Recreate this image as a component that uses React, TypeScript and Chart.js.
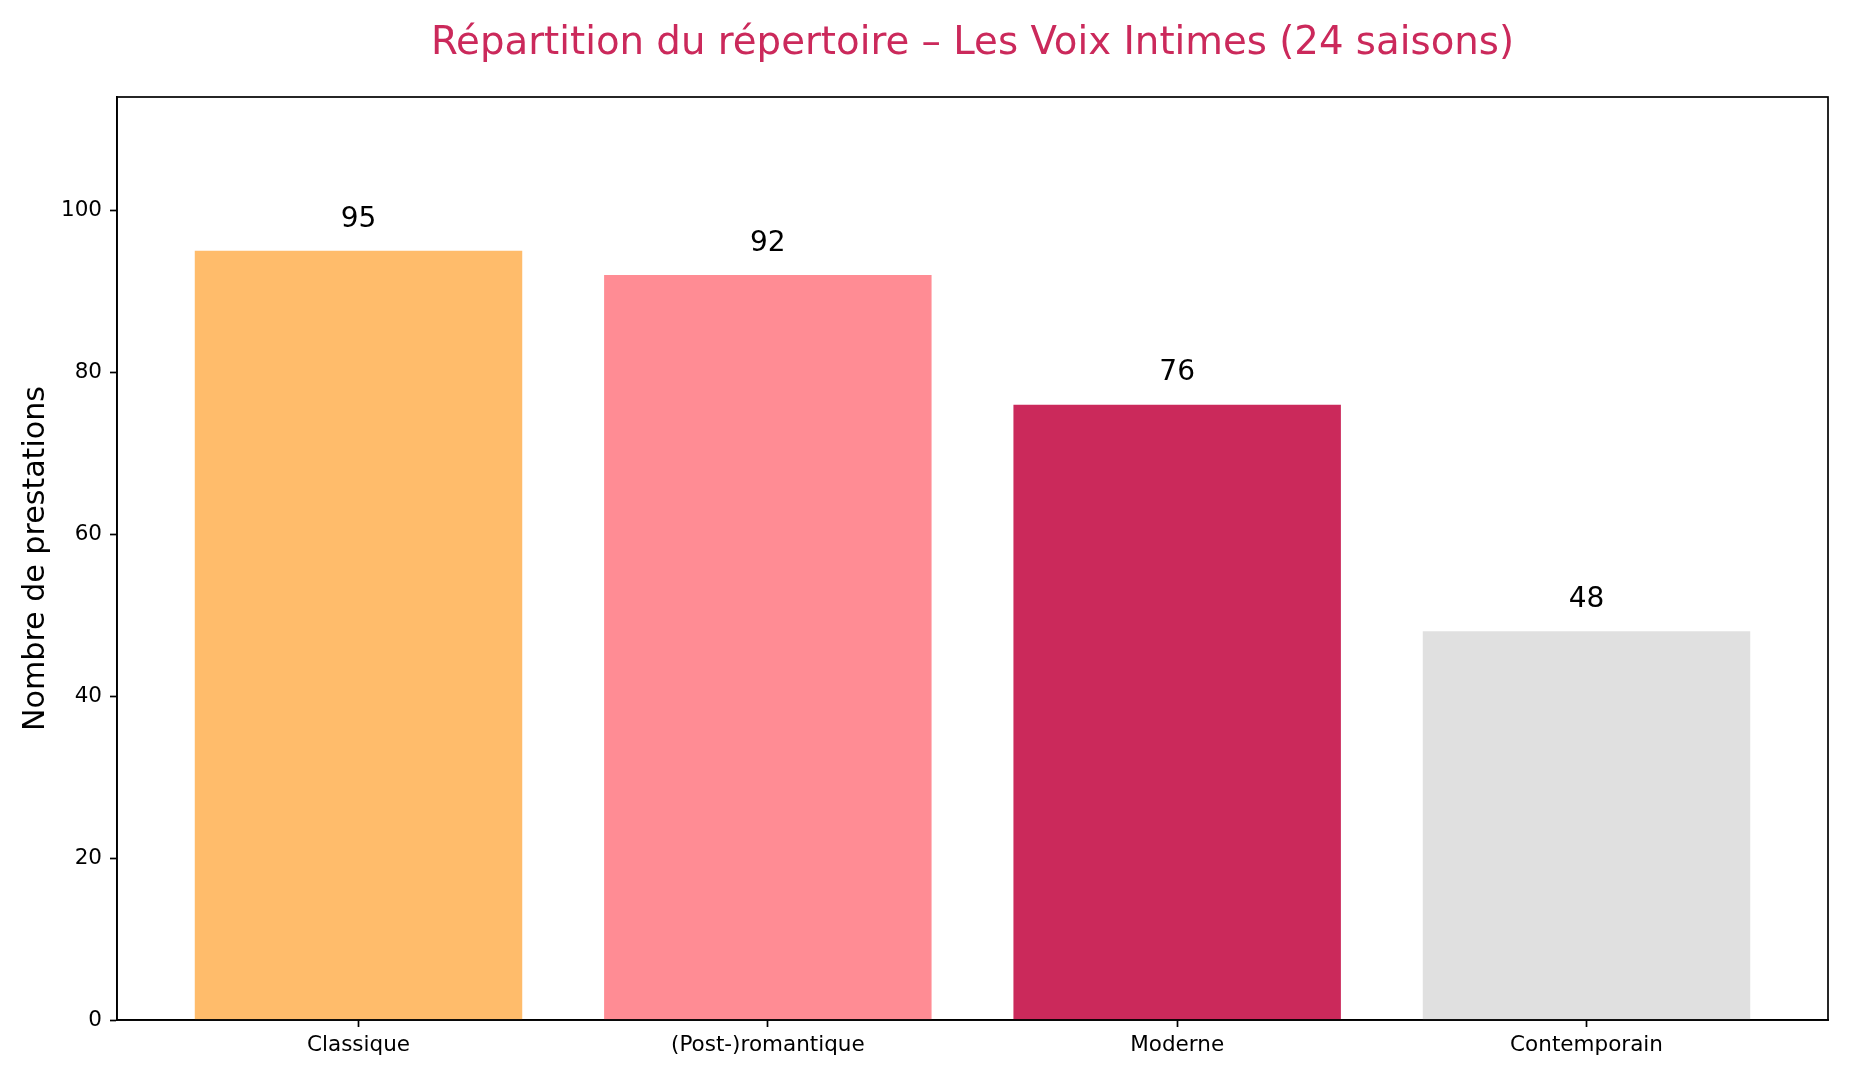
import { useEffect, useRef } from "react";
import { Chart, registerables } from "chart.js";

Chart.register(...registerables);

// données
const categories = ["Classique", "(Post-)romantique", "Moderne", "Contemporain"];
const performances = [95, 92, 76, 48];
const barColors = ["#FFBC6B", "#FF8C94", "#CB295B", "#E0E0E0"];
const yTicks = [0, 20, 40, 60, 80, 100];

const TITLE = "Répartition du répertoire – Les Voix Intimes (24 saisons)";
const Y_LABEL = "Nombre de prestations";
const FONT = "'DejaVu Sans', sans-serif";
const TITLE_COLOR = "#CB295B";

// cadre complet, étiquettes de valeur et titre
const decorations = {
  id: "decorations",
  afterDraw(chart: any) {
    const { ctx, chartArea: a, scales } = chart;
    ctx.save();

    const meta = chart.getDatasetMeta(0);
    ctx.font = `28px ${FONT}`;
    ctx.fillStyle = "#000";
    ctx.textAlign = "center";
    ctx.textBaseline = "alphabetic";
    meta.data.forEach((bar: any, i: number) => {
      const v = performances[i];
      ctx.fillText(String(v), bar.x, scales.y.getPixelForValue(v + 2) - 8);
    });

    ctx.strokeStyle = "#000";
    ctx.lineWidth = 1.7;
    ctx.strokeRect(a.left, a.top, a.right - a.left, a.bottom - a.top);

    ctx.font = `38.7px ${FONT}`;
    ctx.fillStyle = TITLE_COLOR;
    ctx.fillText(TITLE, (a.left + a.right) / 2, a.top - 43);

    ctx.restore();
  },
};

export default function App() {
  const chartRef = useRef<HTMLCanvasElement | null>(null);

  useEffect(() => {
    document.body.style.margin = "0";
    if (!chartRef.current) return;
    const ctx = chartRef.current.getContext("2d");
    if (!ctx) return;

    const axisGrid = {
      offset: false,
      drawOnChartArea: false,
      drawTicks: true,
      tickLength: 7,
      tickColor: "#000",
      tickWidth: 1.7,
    };
    const axisBorder = { display: true, color: "#000", width: 1.7 };
    const tickFont = { family: FONT, size: 21.5 };

    const chart = new Chart(ctx, {
      type: "bar",
      data: {
        datasets: [
          {
            data: performances.map((v, i) => ({ x: i, y: v })),
            backgroundColor: barColors,
            borderWidth: 0,
            barPercentage: 0.8,
            categoryPercentage: 1,
          },
        ],
      },
      options: {
        animation: false,
        responsive: false,
        devicePixelRatio: 1,
        layout: { padding: { top: 97, right: 23, left: 0, bottom: 0 } },
        plugins: {
          legend: { display: false },
          tooltip: { enabled: false },
        },
        scales: {
          x: {
            type: "linear",
            min: -0.59,
            max: 3.59,
            offset: false,
            afterBuildTicks: (s: any) => {
              s.ticks = categories.map((_, i) => ({ value: i }));
            },
            afterFit: (s: any) => {
              s.height = 60;
            },
            grid: axisGrid,
            border: axisBorder,
            ticks: {
              callback: (v: any) => categories[v as number],
              color: "#000",
              font: tickFont,
              padding: 6,
              maxRotation: 0,
              autoSkip: false,
            },
          },
          y: {
            min: 0,
            max: 114,
            afterBuildTicks: (s: any) => {
              s.ticks = yTicks.map((v) => ({ value: v }));
            },
            afterFit: (s: any) => {
              s.width = 117;
            },
            grid: axisGrid,
            border: axisBorder,
            ticks: { color: "#000", font: tickFont, padding: 8 },
            title: {
              display: true,
              text: Y_LABEL,
              color: "#000",
              font: { family: FONT, size: 30.1 },
              padding: { top: 18, bottom: 0 },
            },
          },
        },
      } as any,
      plugins: [decorations],
    });

    return () => {
      chart.destroy();
    };
  }, []);

  return (
    <div style={{ width: 1851, height: 1080, background: "#fff" }}>
      <canvas ref={chartRef} width={1851} height={1080}></canvas>
    </div>
  );
}
